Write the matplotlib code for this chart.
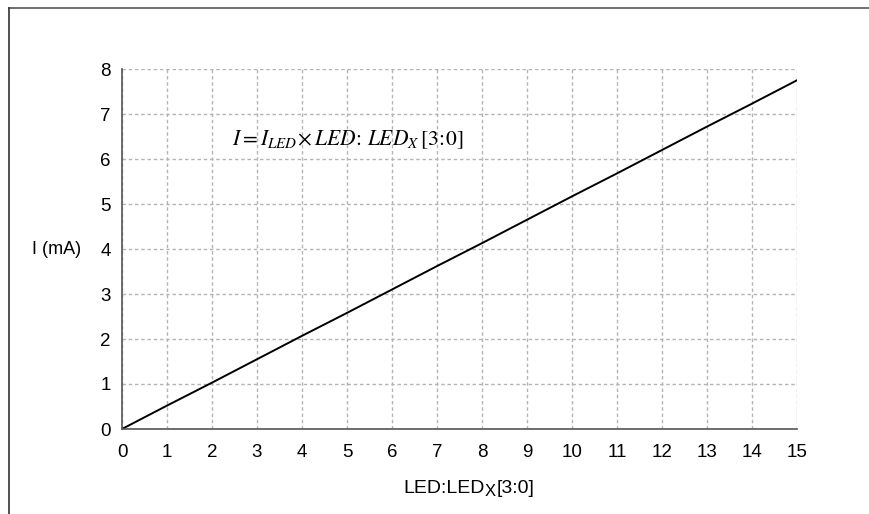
import matplotlib
matplotlib.use('Agg')
import matplotlib.pyplot as plt
from matplotlib.lines import Line2D

plt.rcParams['font.family'] = ['Liberation Sans', 'DejaVu Sans']
plt.rcParams['mathtext.fontset'] = 'stix'

led_code = [0, 1, 2, 3, 4, 5, 6, 7, 8, 9, 10, 11, 12, 13, 14, 15]
current_ma = [0, 0.52, 1.03, 1.55, 2.07, 2.58, 3.1, 3.62, 4.13, 4.65,
              5.17, 5.68, 6.2, 6.72, 7.23, 7.75]

fig = plt.figure(figsize=(8.69, 5.14), dpi=100)
ax = fig.add_axes([122 / 869, 1 - 429 / 514, 675 / 869, 360 / 514])

ax.plot(led_code, current_ma, color='black', linewidth=1.4)

ax.set_xlim(0, 15)
ax.set_ylim(0, 8)
ax.set_xticks(range(0, 16))
ax.set_yticks(range(0, 9))
ax.grid(True, color='#b4b4b4', linestyle=(0, (2.5, 2)), linewidth=1)
ax.tick_params(length=0, labelsize=13.5)
ax.tick_params(axis='x', pad=11)
ax.tick_params(axis='y', pad=8)
for s in ['top', 'right']:
    ax.spines[s].set_visible(False)
for s in ['left', 'bottom']:
    ax.spines[s].set_color('#555555')
    ax.spines[s].set_linewidth(1.2)

ax.text(2.45, 6.42, r'$I = I_{LED}\!\times LED\!:\, LED_X\,[3\!:\!0]$',
        fontsize=15.5, va='center', ha='left')

fig.text(57 / 869, 1 - 250 / 514, 'I (mA)', fontsize=13, ha='center', va='center')

# x label built from pieces so the subscript X stays near full size
renderer = fig.canvas.get_renderer()
x0 = 403
base = 1 - 493 / 514
t1 = fig.text(x0 / 869, base, 'LED:LED', fontsize=14, ha='left', va='baseline')
w1 = t1.get_window_extent(renderer).width
t2 = fig.text((x0 + w1 + 0.5) / 869, base - 3 / 514, 'X', fontsize=12, ha='left', va='baseline')
w2 = t2.get_window_extent(renderer).width
fig.text((x0 + w1 + w2 + 1) / 869, base, '[3:0]', fontsize=14, ha='left', va='baseline')

# frame lines along top and left of the figure
fig.add_artist(Line2D([9 / 869, 1], [1 - 7.5 / 514, 1 - 7.5 / 514], color='#555555', linewidth=1.2))
fig.add_artist(Line2D([9 / 869, 9 / 869], [0, 1 - 7.5 / 514], color='#333333', linewidth=1.2))

fig.savefig('out.png', dpi=100)
